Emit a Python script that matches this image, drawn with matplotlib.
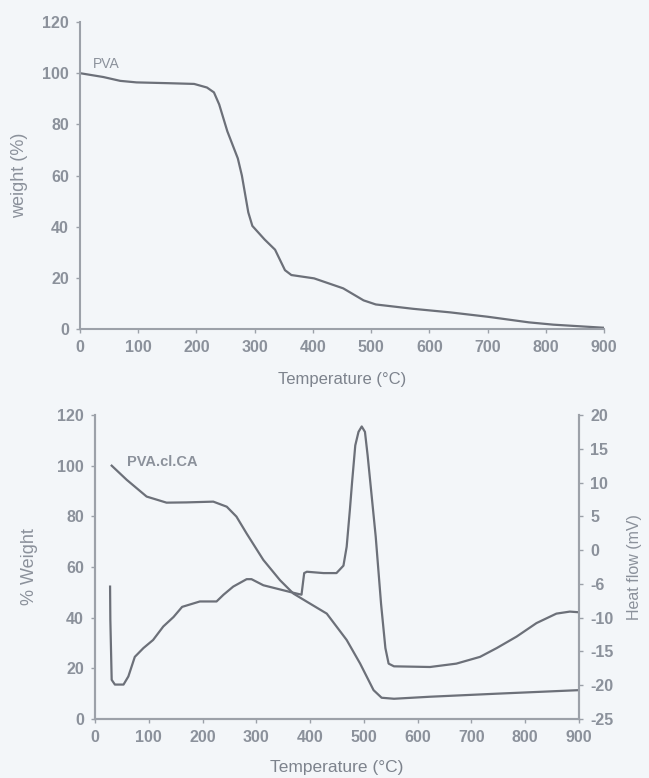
import matplotlib
matplotlib.use("Agg")
import matplotlib.pyplot as plt

# === Data: PVA weight loss (top panel) ===
pva_temp = [0, 40, 69, 97, 150, 196, 218, 230, 239, 253, 271, 278, 289, 296, 317,
            335, 352, 363, 402, 452, 487, 508, 572, 636, 700, 771, 813, 899]
pva_weight = [100, 98.5, 97, 96.4, 96.1, 95.8, 94.4, 92.5, 87.8, 77.3, 66.7, 60, 45.6, 40.3, 35,
              31, 23, 21.1, 19.8, 15.9, 11.2, 9.6, 7.9, 6.5, 4.8, 2.6, 1.7, 0.5]

# === Data: PVA.cl.CA weight loss and heat flow (bottom panel) ===
cla_temp = [31, 59, 96, 133, 170, 220, 245, 263, 282, 313, 344, 369, 394, 431, 468,
            493, 518, 533, 556, 623, 747, 900]
cla_weight = [100, 94.4, 87.8, 85.4, 85.5, 85.8, 83.8, 79.9, 73.2, 62.8, 54.8, 49.5, 46.3, 41.6, 31.2,
              21.9, 11.4, 8.4, 8.0, 8.8, 10, 11.4]

hf_temp = [28, 28.5, 31, 37, 53, 62, 74, 90, 108, 127, 146, 162, 195, 226, 239, 257, 282, 291,
           313, 338, 363, 384, 389, 394, 425, 449, 462, 468, 474, 478, 484, 490, 496, 502, 507,
           512, 522, 532, 540, 546, 556, 623, 672, 716, 747, 784, 821, 858, 883, 900]
hf_value = [-5.4, -10.3, -19.2, -19.9, -19.9, -18.7, -15.8, -14.5, -13.3, -11.3, -9.9, -8.4, -7.6, -7.6,
            -6.6, -5.4, -4.3, -4.3, -5.2, -5.7, -6.2, -6.6, -3.4, -3.2, -3.4, -3.4, -2.3, 0.5, 6, 10,
            15.5, 17.5, 18.3, 17.5, 14, 10, 2, -8, -14.5, -16.8, -17.2, -17.3, -16.8, -15.8, -14.5,
            -12.8, -10.8, -9.4, -9.1, -9.2]

x_ticks = list(range(0, 901, 100))
w_ticks = list(range(0, 121, 20))
hf_ticks = [20, 15, 10, 5, 0, -5, -10, -15, -20, -25]
hf_tick_labels = ["20", "15", "10", "5", "0", "-6", "-10", "-15", "-20", "-25"]

# === Style ===
bg = "#f3f6f9"
line_c = "#6c7079"
spine_c = "#9ca1a9"
text_c = "#8b919b"
plt.rcParams["font.family"] = ["Liberation Sans", "DejaVu Sans"]

fig = plt.figure(figsize=(6.49, 7.78), dpi=100, facecolor=bg)

# === Top panel ===
ax1 = fig.add_axes([0.1233, 0.5771, 0.8074, 0.3946], facecolor=bg)
ax1.plot(pva_temp, pva_weight, color=line_c, lw=1.6)
ax1.set_xlim(0, 900)
ax1.set_ylim(0, 120)
ax1.set_xticks(x_ticks)
ax1.set_yticks(w_ticks)
ax1.text(22, 103.6, "PVA", color=text_c, fontsize=10, va="center")
ax1.set_xlabel("Temperature (°C)", color="#7d838d", fontsize=12, labelpad=12)
ax1.set_ylabel("weight (%)", color=text_c, fontsize=13, labelpad=10)
for side in ("top", "right"):
    ax1.spines[side].set_visible(False)

# === Bottom panel ===
ax2 = fig.add_axes([0.1464, 0.0758, 0.7457, 0.3908], facecolor=bg)
ax2.plot(cla_temp, cla_weight, color=line_c, lw=1.6)
ax2.set_xlim(0, 900)
ax2.set_ylim(0, 120)
ax2.set_xticks(x_ticks)
ax2.set_yticks(w_ticks)
ax2.text(60, 101.5, "PVA.cl.CA", color=text_c, fontsize=10.5, fontweight="bold", va="center")
ax2.set_xlabel("Temperature (°C)", color="#7d838d", fontsize=12.5, labelpad=11)
ax2.set_ylabel("% Weight", color=text_c, fontsize=13, labelpad=14)
ax2.spines["top"].set_visible(False)

ax3 = ax2.twinx()
ax3.plot(hf_temp, hf_value, color=line_c, lw=1.6)
ax3.set_ylim(-25, 20)
ax3.set_yticks(hf_ticks)
ax3.set_yticklabels(hf_tick_labels)
ax3.set_ylabel("Heat flow (mV)", color=text_c, fontsize=11.5, labelpad=10)
ax3.spines["top"].set_visible(False)

# === Shared cleanup ===
for ax in (ax1, ax2, ax3):
    for sp in ax.spines.values():
        sp.set_color(spine_c)
        sp.set_linewidth(1.5)
    ax.tick_params(colors=spine_c, labelcolor=text_c, labelsize=11.5, length=3, width=1, pad=5)
    for lab in ax.get_xticklabels() + ax.get_yticklabels():
        lab.set_fontweight("bold")

fig.savefig("out.png", dpi=100, facecolor=bg)
